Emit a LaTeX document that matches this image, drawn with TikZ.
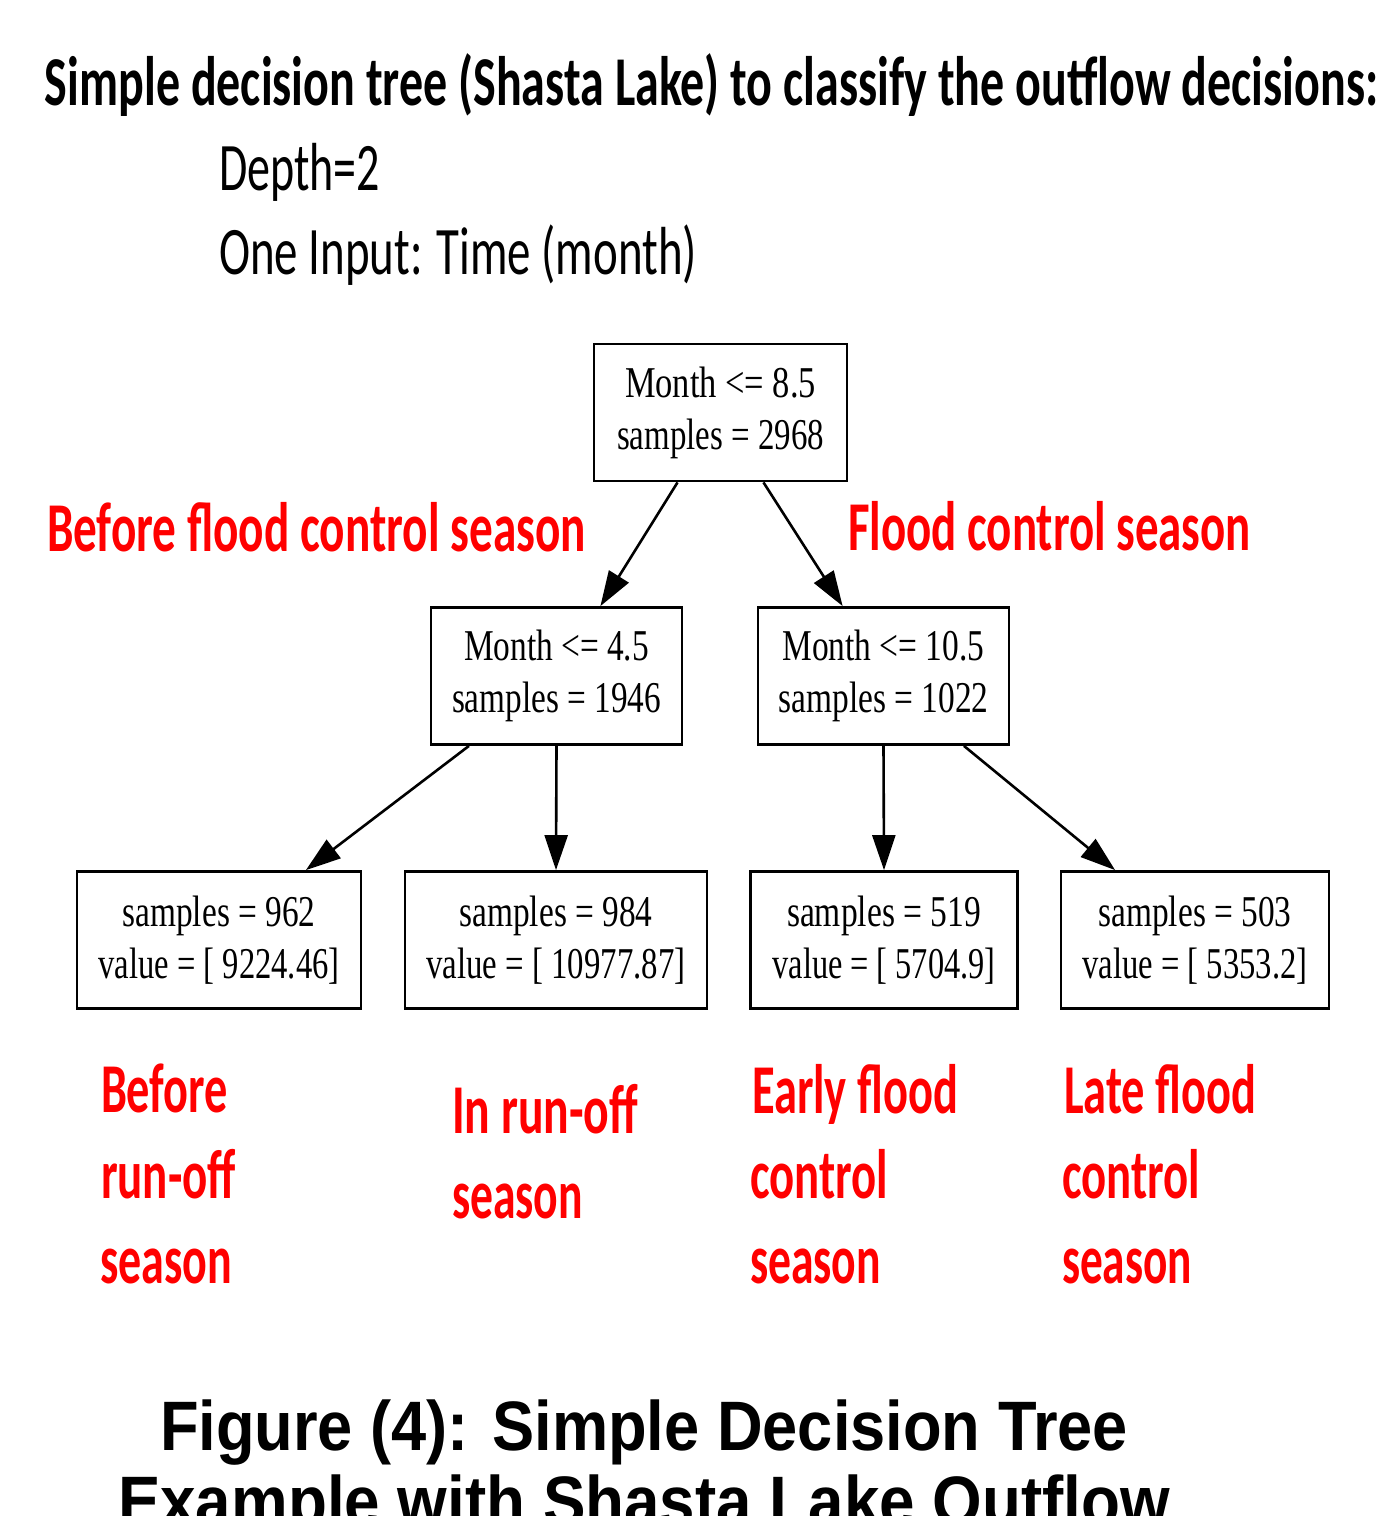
\documentclass[tikz,border=0pt]{standalone}
\usepackage{fontspec}
\usepackage{graphicx}
\usetikzlibrary{arrows.meta,calc}
\newfontfamily\headfont{Carlito}
\newfontfamily\treefont{Liberation Serif}
\newfontfamily\capfont{Liberation Sans}
% set a line of text to a given width, keeping its height
\newcommand{\fitto}[2]{\resizebox{#1}{\height}{#2}}
\definecolor{labelred}{RGB}{255,0,0}

\begin{document}
\begin{tikzpicture}[x=1pt,y=-1pt,
  txt/.style={anchor=base west, inner sep=0pt, outer sep=0pt},
  heading/.style={txt, font=\headfont\bfseries\fontsize{70}{84}\selectfont},
  subhead/.style={txt, font=\headfont\fontsize{68}{80}\selectfont},
  season/.style={txt, text=labelred, font=\headfont\bfseries\fontsize{70}{84}\selectfont},
  caption/.style={txt, font=\capfont\bfseries\fontsize{70}{75}\selectfont},
  split/.style={draw=black, line width=2.8pt, inner sep=0pt, align=center,
    font=\treefont\fontsize{44}{52}\selectfont, minimum height=137pt},
  edge/.style={line width=2.6pt, -{Triangle[length=35pt,width=23pt]}},
]
\useasboundingbox (0,0) rectangle (1400,1516);
\clip (0,0) rectangle (1400,1516);
\fill[white] (0,0) rectangle (1400,1516);

% heading
\node[heading] (title) at (45,105) {\fitto{1333pt}{Simple decision tree (Shasta Lake) to classify the outflow decisions:}};
\node[subhead] (depth) at (219,190) {\fitto{161pt}{Depth=2}};
\node[subhead] (input) at (219,274) {\fitto{478pt}{One Input: Time (month)}};

% tree
\node[split, minimum width=253pt] (root) at (720.5,412.5)
  {\fitto{191pt}{Month <= 8.5}\\\fitto{207pt}{samples = 2968}};
\node[split, minimum width=251pt] (midL) at (556.5,676)
  {\fitto{185pt}{Month <= 4.5}\\\fitto{209pt}{samples = 1946}};
\node[split, minimum width=251pt] (midR) at (883.5,676)
  {\fitto{202pt}{Month <= 10.5}\\\fitto{210pt}{samples = 1022}};
\node[split, minimum width=284pt] (leafA) at (219,940)
  {\fitto{193pt}{samples = 962}\\\fitto{241pt}{value = [ 9224.46]}};
\node[split, minimum width=302pt] (leafB) at (556,940)
  {\fitto{193pt}{samples = 984}\\\fitto{259pt}{value = [ 10977.87]}};
\node[split, minimum width=267pt] (leafC) at (884,940)
  {\fitto{194pt}{samples = 519}\\\fitto{223pt}{value = [ 5704.9]}};
\node[split, minimum width=268pt] (leafD) at (1195,940)
  {\fitto{193pt}{samples = 503}\\\fitto{225pt}{value = [ 5353.2]}};

\draw[edge] ($(root.south west)!0.332!(root.south east)$) -- ($(midL.north west)!0.673!(midL.north east)$);
\draw[edge] ($(root.south west)!0.668!(root.south east)$) -- ($(midR.north west)!0.339!(midR.north east)$);
\draw[edge] ($(midL.south west)!0.155!(midL.south east)$) -- ($(leafA.north west)!0.803!(leafA.north east)$);
\draw[edge] (midL.south) -- (leafB.north);
\draw[edge] (midR.south) -- (leafC.north);
\draw[edge] ($(midR.south west)!0.817!(midR.south east)$) -- ($(leafD.north west)!0.205!(leafD.north east)$);

% branch labels
\node[season] (lblBefore) at (47,551) {\fitto{539pt}{Before flood control season}};
\node[season] (lblFlood) at (848,550) {\fitto{403pt}{Flood control season}};

% leaf labels
\node[season] (a1) at (101,1112) {\fitto{127pt}{Before}};
\node[season] (a2) at (101,1198) {\fitto{135pt}{run-off}};
\node[season] (a3) at (100,1283) {\fitto{132pt}{season}};
\node[season] (b1) at (452,1133) {\fitto{186pt}{In run-off}};
\node[season] (b2) at (452,1218) {\fitto{131pt}{season}};
\node[season] (c1) at (752,1113) {\fitto{206pt}{Early flood}};
\node[season] (c2) at (750,1198) {\fitto{138pt}{control}};
\node[season] (c3) at (750,1283) {\fitto{131pt}{season}};
\node[season] (d1) at (1064,1113) {\fitto{192pt}{Late flood}};
\node[season] (d2) at (1062,1198) {\fitto{138pt}{control}};
\node[season] (d3) at (1062,1283) {\fitto{130pt}{season}};

% caption
\node[caption] (cap1) at (160,1450) {\fitto{968pt}{Figure (4): Simple Decision Tree}};
\node[caption] (cap2) at (118,1525) {\fitto{1052pt}{Example with Shasta Lake Outflow}};
\end{tikzpicture}
\end{document}
